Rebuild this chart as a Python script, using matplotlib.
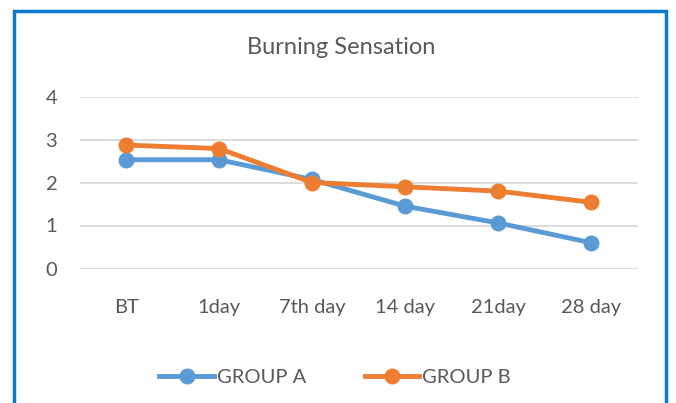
import matplotlib
matplotlib.use("Agg")
import matplotlib.pyplot as plt
from matplotlib.patches import Rectangle
from matplotlib.lines import Line2D

categories = ["BT", "1day", "7th day", "14 day", "21day", "28 day"]
group_a = [2.53, 2.53, 2.07, 1.45, 1.06, 0.60]
group_b = [2.87, 2.79, 2.00, 1.90, 1.80, 1.54]
series_names = ["GROUP A", "GROUP B"]
y_ticks = [0, 1, 2, 3, 4]

W, H = 676, 403
fig = plt.figure(figsize=(W / 100, H / 100), dpi=100)
plt.rcParams['font.family'] = ['Lato', 'DejaVu Sans']

txt = "#595959"
blue = "#5B9BD5"
orange = "#ED7D31"

left, right, top, bottom = 79.5, 637.5, 96.5, 268.5
ax = fig.add_axes([left / W, 1 - bottom / H, (right - left) / W, (bottom - top) / H])
x = list(range(len(categories)))
ax.plot(x, group_a, color=blue, lw=3.5, marker="o", ms=10.5, solid_capstyle="round", zorder=3, clip_on=False)
ax.plot(x, group_b, color=orange, lw=3.5, marker="o", ms=10.5, solid_capstyle="round", zorder=4, clip_on=False)
ax.set_xlim(-0.5, len(categories) - 0.5)
ax.set_ylim(0, 4)
ax.set_yticks(y_ticks)
ax.set_yticklabels([str(v) for v in y_ticks], fontsize=14.5, color=txt)
ax.set_xticks(x)
ax.set_xticklabels(categories, fontsize=14.5, color=txt)
ax.tick_params(axis="both", length=0)
ax.tick_params(axis="y", pad=16)
ax.tick_params(axis="x", pad=22)
ax.grid(axis="y", color="#D9D9D9", lw=1.3)
ax.set_axisbelow(True)
for s in ax.spines.values():
    s.set_visible(False)

fig.text(341 / W, 1 - 47 / H, "Burning Sensation", ha="center", va="center", fontsize=17, color=txt)

handles = [Line2D([], [], color=blue, lw=3.5, marker="o", ms=10.5),
           Line2D([], [], color=orange, lw=3.5, marker="o", ms=10.5)]
fig.legend(handles, series_names, loc="center", bbox_to_anchor=(335 / W, 1 - 377 / H),
           ncol=2, frameon=False, fontsize=14.5, labelcolor=txt, handlelength=2.7,
           handletextpad=0.15, columnspacing=2.9)

fig.add_artist(Rectangle((14 / W, -0.05), (666 - 14) / W, 1 - 11 / H + 0.05,
                         transform=fig.transFigure, fill=False, ec="#0A78CF", lw=2.5))

fig.savefig("out.png", dpi=100)
